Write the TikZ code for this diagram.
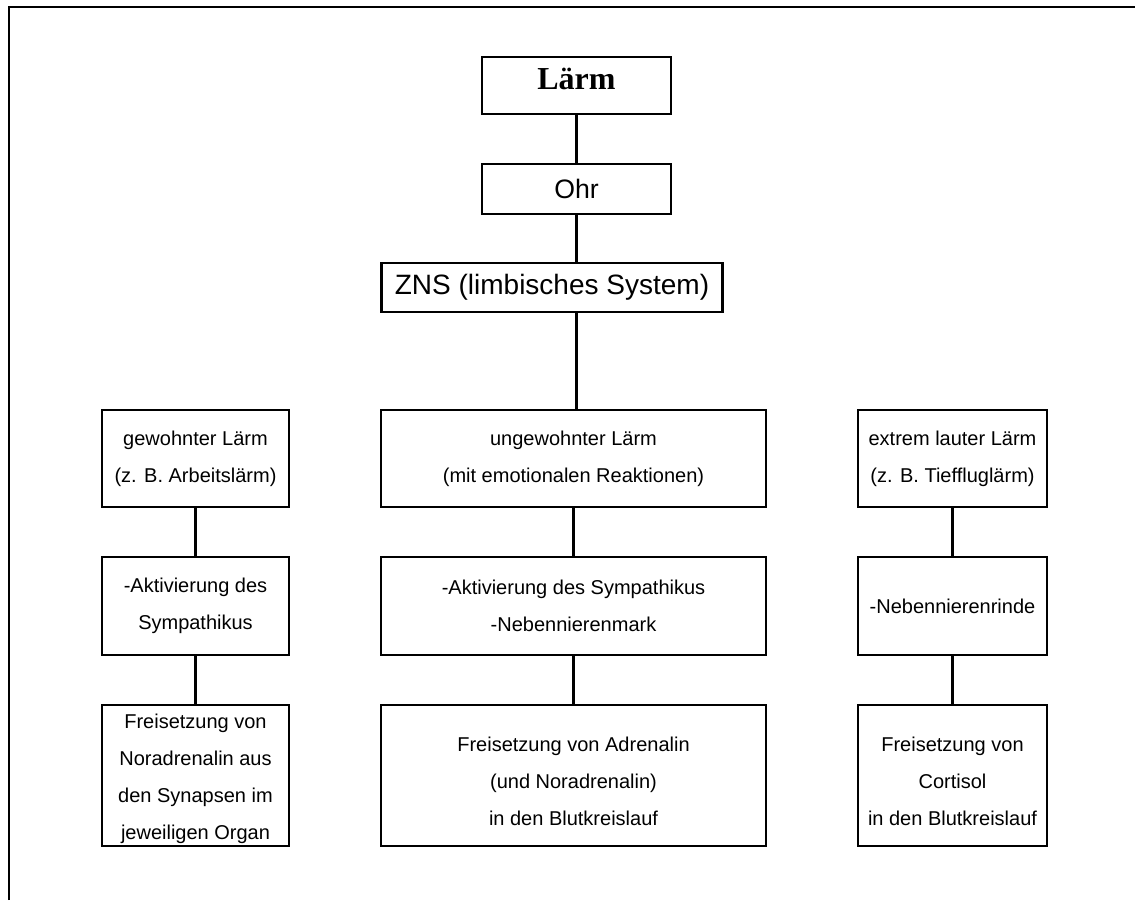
\documentclass[tikz,border=0pt]{standalone}
\usepackage{fontspec}
\setmainfont{Liberation Sans}
\newfontfamily\titlefont{Liberation Serif}
\newcommand\lowstrut[1][20pt]{\rule{0pt}{#1}}
\begin{document}
\begin{tikzpicture}[x=0.75pt,y=-0.75pt,line width=1.8pt,
    box/.style={draw,line width=1.8pt,inner sep=0pt,align=center,
      font=\fontsize{15}{27.75}\selectfont},
    big/.style={box,font=\fontsize{20}{24}\selectfont},
    col1/.style={box,minimum width=140.25pt},
    col2/.style={box,minimum width=288.75pt},
    col3/.style={box,minimum width=141.75pt},
    row3/.style={minimum height=105.75pt}]
  \useasboundingbox (0,0) rectangle (1135,900);
  \draw (9,900) -- (9,7) -- (1135,7);
  \draw
    (576.5,85.5) node[box,minimum width=141.75pt,minimum height=42.75pt,
      text depth=10pt,font=\titlefont\fontsize{24}{28}\selectfont\bfseries] (laerm){Lärm}
    (576.5,189) node[big,minimum width=141.75pt,minimum height=37.5pt] (ohr){Ohr}
    (552,287.5) node[big,minimum width=255.75pt,minimum height=36.75pt,
      font=\fontsize{21}{24}\selectfont] (zns){ZNS (limbisches System)}
    (195.5,458.5) node[col1,minimum height=72.75pt] (gew){gewohnter Lärm\\(z. B. Arbeitslärm)}
    (573.5,458.5) node[col2,minimum height=72.75pt] (ungew){ungewohnter Lärm\\(mit emotionalen Reaktionen)}
    (952.5,458.5) node[col3,minimum height=72.75pt] (extrem){extrem lauter Lärm\\(z. B. Tieffluglärm)}
    (195.5,606) node[col1,minimum height=73.5pt] (gewakt){-Aktivierung des\\Sympathikus}
    (573.5,606) node[col2,minimum height=73.5pt] (ungewakt){-Aktivierung des Sympathikus\\-Nebennierenmark}
    (952.5,606) node[col3,minimum height=73.5pt] (extremnnr){-Nebennierenrinde}
    (195.5,775.5) node[col1,row3,text depth=0pt] (gewfrei){\lowstrut[13pt]Freisetzung von\\Noradrenalin aus\\den Synapsen im\\jeweiligen Organ}
    (573.5,775.5) node[col2,row3] (ungewfrei){\lowstrut Freisetzung von Adrenalin\\(und Noradrenalin)\\in den Blutkreislauf}
    (952.5,775.5) node[col3,row3] (extremfrei){\lowstrut Freisetzung von\\Cortisol\\in den Blutkreislauf};
  \begin{scope}[-]
    \draw (laerm) to (ohr);
    \draw (ohr) to (ohr |- zns.north);
    \draw (zns.south -| ohr) to (ohr |- ungew.north);
    \draw (gew) to (gewakt);
    \draw (gewakt) to (gewfrei);
    \draw (ungew) to (ungewakt);
    \draw (ungewakt) to (ungewfrei);
    \draw (extrem) to (extremnnr);
    \draw (extremnnr) to (extremfrei);
  \end{scope}
\end{tikzpicture}
\end{document}
